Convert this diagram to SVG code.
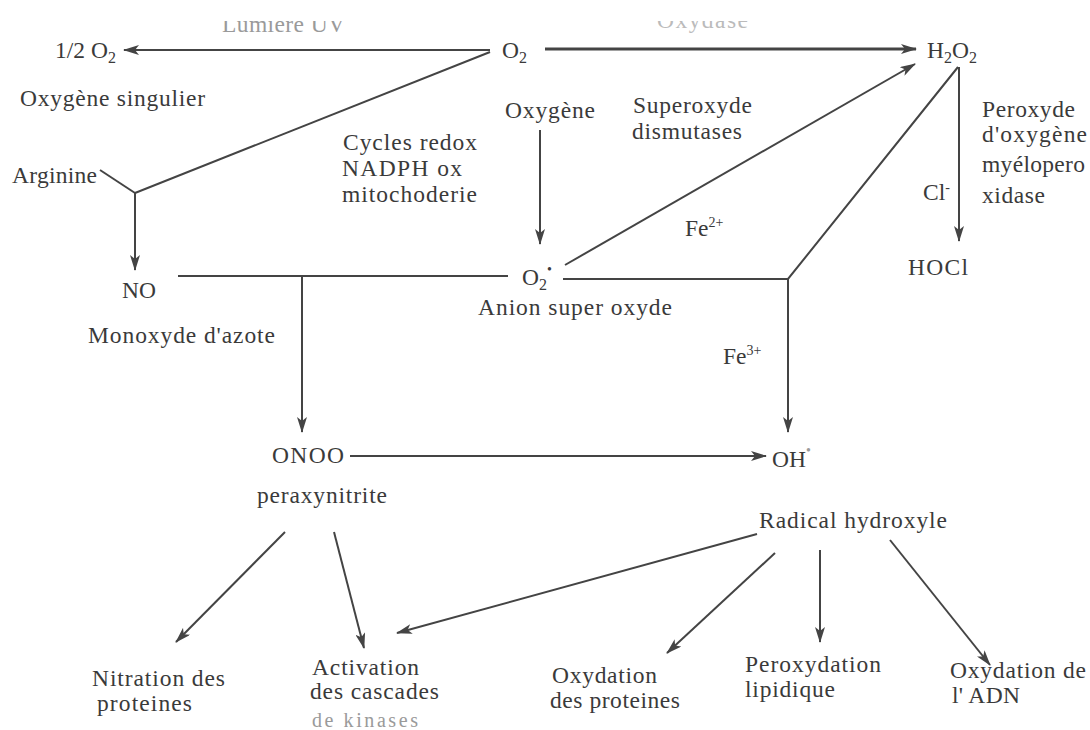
<svg xmlns="http://www.w3.org/2000/svg" width="1090" height="730" viewBox="0 0 1090 730">
<style>
text{font-family:"Liberation Serif","Times New Roman",serif;font-size:23.5px;fill:#3a3a3a}
.sub{font-size:16px}
.sup{font-size:14px}
.faint{fill:#9a9a9a}
.ln{stroke:#444;stroke-width:2;fill:none}
.thick{stroke-width:3.2}
</style>
<defs>
<marker id="ah" viewBox="0 0 16 10" refX="15" refY="5" markerWidth="16" markerHeight="10" markerUnits="userSpaceOnUse" orient="auto">
<path d="M0,0 L16,5 L0,10 L4,5 z" fill="#444"/>
</marker>
<clipPath id="topclip"><rect x="0" y="21" width="1090" height="40"/></clipPath>
</defs>
<rect width="1090" height="730" fill="#fff"/>

<g id="connectors">
<line class="ln" x1="490" y1="50" x2="124" y2="50" marker-end="url(#ah)"/>
<polyline class="ln" points="490,52 135,193"/>
<polyline class="ln" points="100,170 135,193"/>
<line class="ln" x1="135" y1="193" x2="135" y2="270" marker-end="url(#ah)"/>
<line class="ln thick" x1="545" y1="49" x2="916" y2="49" marker-end="url(#ah)"/>
<line class="ln" x1="540" y1="130" x2="540" y2="244" marker-end="url(#ah)"/>
<line class="ln" x1="178" y1="276" x2="508" y2="276"/>
<line class="ln" x1="302" y1="276" x2="302" y2="432" marker-end="url(#ah)"/>
<line class="ln" x1="565" y1="265" x2="915" y2="64" marker-end="url(#ah)"/>
<polyline class="ln" points="563,279 788,279 958,67"/>
<line class="ln" x1="788" y1="279" x2="788" y2="432" marker-end="url(#ah)"/>
<line class="ln" x1="959" y1="67" x2="959" y2="241" marker-end="url(#ah)"/>
<line class="ln" x1="350" y1="456" x2="766" y2="456" marker-end="url(#ah)"/>
<line class="ln" x1="285" y1="532" x2="176" y2="642" marker-end="url(#ah)"/>
<line class="ln" x1="334" y1="532" x2="364" y2="648" marker-end="url(#ah)"/>
<line class="ln" x1="757" y1="534" x2="397" y2="633" marker-end="url(#ah)"/>
<line class="ln" x1="775" y1="553" x2="667" y2="653" marker-end="url(#ah)"/>
<line class="ln" x1="820" y1="550" x2="820" y2="642" marker-end="url(#ah)"/>
<line class="ln" x1="890" y1="540" x2="990" y2="665" marker-end="url(#ah)"/>
</g>

<g id="label-lumiere" clip-path="url(#topclip)"><text x="222" y="32" textLength="123" lengthAdjust="spacing" class="faint">Lumière UV</text></g>
<g id="label-oxydase" clip-path="url(#topclip)"><text x="657" y="28" textLength="91" lengthAdjust="spacing" style="fill:#bbb">Oxydase</text></g>

<g id="node-singulet"><text x="55" y="58">1/2 O<tspan class="sub" dy="5">2</tspan></text>
<text x="20" y="106" textLength="185" lengthAdjust="spacing">Oxygène singulier</text></g>
<g id="node-o2"><text x="502" y="58">O<tspan class="sub" dy="5">2</tspan></text></g>
<g id="node-h2o2"><text x="927" y="58">H<tspan class="sub" dy="5">2</tspan><tspan dy="-5">O</tspan><tspan class="sub" dy="5">2</tspan></text></g>
<g id="node-arginine"><text x="12" y="183" textLength="85" lengthAdjust="spacing">Arginine</text></g>
<g id="label-oxygene"><text x="505" y="118" textLength="90" lengthAdjust="spacing">Oxygène</text></g>
<g id="label-cycles"><text x="343" y="150" textLength="134" lengthAdjust="spacing">Cycles redox</text>
<text x="342" y="176" textLength="120" lengthAdjust="spacing">NADPH ox</text>
<text x="342" y="202" textLength="135" lengthAdjust="spacing">mitochoderie</text></g>
<g id="label-sod"><text x="633" y="113" textLength="119" lengthAdjust="spacing">Superoxyde</text>
<text x="632" y="139" textLength="110" lengthAdjust="spacing">dismutases</text></g>
<g id="label-mpo"><text x="982" y="117" textLength="93" lengthAdjust="spacing">Peroxyde</text>
<text x="982" y="142" textLength="105" lengthAdjust="spacing">d'oxygène</text>
<text x="982" y="172" textLength="103" lengthAdjust="spacing">myélopero</text>
<text x="982" y="203" textLength="63" lengthAdjust="spacing">xidase</text></g>
<g id="label-cl"><text x="923" y="200">Cl<tspan class="sup" dy="-8">-</tspan></text></g>
<g id="node-hocl"><text x="908" y="275" textLength="60" lengthAdjust="spacing">HOCl</text></g>
<g id="label-fe2"><text x="685" y="236">Fe<tspan class="sup" dy="-9">2+</tspan></text></g>
<g id="label-fe3"><text x="723" y="364">Fe<tspan class="sup" dy="-9">3+</tspan></text></g>
<g id="node-no"><text x="122" y="298">NO</text>
<text x="88" y="343" textLength="187" lengthAdjust="spacing">Monoxyde d'azote</text></g>
<g id="node-superoxyde"><text x="522" y="285">O<tspan class="sub" dy="5">2</tspan><tspan class="sup" dy="-16">•</tspan></text>
<text x="478" y="315" textLength="194" lengthAdjust="spacing">Anion super oxyde</text></g>
<g id="node-onoo"><text x="272" y="463" textLength="72" lengthAdjust="spacing">ONOO</text>
<text x="257" y="503" textLength="130" lengthAdjust="spacing">peraxynitrite</text></g>
<g id="node-oh"><text x="772" y="467">OH<tspan class="sup faint" dy="-12">•</tspan></text>
<text x="759" y="528" textLength="188" lengthAdjust="spacing">Radical hydroxyle</text></g>
<g id="node-nitration"><text x="92" y="686" textLength="133" lengthAdjust="spacing">Nitration des</text>
<text x="97" y="711" textLength="95" lengthAdjust="spacing">proteines</text></g>
<g id="node-activation"><text x="312" y="675" textLength="107" lengthAdjust="spacing">Activation</text>
<text x="310" y="699" textLength="129" lengthAdjust="spacing">des cascades</text>
<text x="312" y="727" textLength="106" lengthAdjust="spacing" class="faint" style="font-size:20px">de kinases</text></g>
<g id="node-oxprot"><text x="552" y="683" textLength="105" lengthAdjust="spacing">Oxydation</text>
<text x="550" y="708" textLength="130" lengthAdjust="spacing">des proteines</text></g>
<g id="node-perox"><text x="745" y="672" textLength="136" lengthAdjust="spacing">Peroxydation</text>
<text x="745" y="697" textLength="90" lengthAdjust="spacing">lipidique</text></g>
<g id="node-adn"><text x="950" y="678" textLength="136" lengthAdjust="spacing">Oxydation de</text>
<text x="952" y="703" textLength="68" lengthAdjust="spacing">l' ADN</text></g>
</svg>
